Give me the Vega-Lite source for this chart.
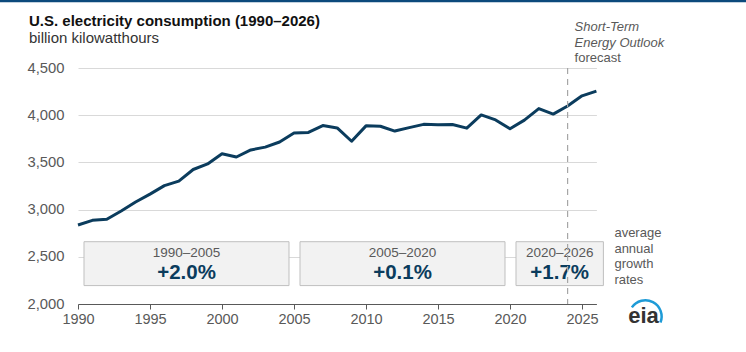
{
  "$schema": "https://vega.github.io/schema/vega-lite/v6.json",
  "width": 518.4,
  "height": 236,
  "autosize": {"type": "none"},
  "padding": {"left": 78, "top": 68, "right": 149.6, "bottom": 48},
  "background": "white",
  "config": {
    "font": "Liberation Sans",
    "view": {"stroke": null},
    "axis": {"title": null}
  },
  "title": {
    "text": "U.S. electricity consumption (1990–2026)",
    "subtitle": "billion kilowatthours",
    "anchor": "start",
    "frame": "group",
    "dx": -49,
    "offset": -46.5,
    "fontSize": 15,
    "fontWeight": "bold",
    "color": "#111111",
    "subtitleFontSize": 15,
    "subtitleColor": "#333333",
    "subtitlePadding": 2
  },
  "datasets": {
    "consumption": [
      {"year": 1990, "value": 2837}, {"year": 1991, "value": 2886}, {"year": 1992, "value": 2897},
      {"year": 1993, "value": 2985}, {"year": 1994, "value": 3080}, {"year": 1995, "value": 3164},
      {"year": 1996, "value": 3254}, {"year": 1997, "value": 3302}, {"year": 1998, "value": 3425},
      {"year": 1999, "value": 3484}, {"year": 2000, "value": 3592}, {"year": 2001, "value": 3557},
      {"year": 2002, "value": 3632}, {"year": 2003, "value": 3662}, {"year": 2004, "value": 3716},
      {"year": 2005, "value": 3811}, {"year": 2006, "value": 3817}, {"year": 2007, "value": 3890},
      {"year": 2008, "value": 3865}, {"year": 2009, "value": 3724}, {"year": 2010, "value": 3887},
      {"year": 2011, "value": 3883}, {"year": 2012, "value": 3832}, {"year": 2013, "value": 3868},
      {"year": 2014, "value": 3903}, {"year": 2015, "value": 3900}, {"year": 2016, "value": 3902},
      {"year": 2017, "value": 3863}, {"year": 2018, "value": 4003}, {"year": 2019, "value": 3950},
      {"year": 2020, "value": 3856}, {"year": 2021, "value": 3948}, {"year": 2022, "value": 4070},
      {"year": 2023, "value": 4012}, {"year": 2024, "value": 4097}, {"year": 2025, "value": 4205},
      {"year": 2026, "value": 4255}
    ],
    "periods": [
      {"start": 1990, "end": 2005, "label": "1990–2005", "rate": "+2.0%"},
      {"start": 2005, "end": 2020, "label": "2005–2020", "rate": "+0.1%"},
      {"start": 2020, "end": 2026, "label": "2020–2026", "rate": "+1.7%"}
    ],
    "one": [{}]
  },
  "layer": [
    {
      "data": {"name": "consumption"},
      "mark": {"type": "line", "color": "#0b3c5d", "strokeWidth": 3, "strokeJoin": "round"},
      "encoding": {
        "x": {
          "field": "year", "type": "quantitative",
          "scale": {"domain": [1990, 2026], "nice": false, "zero": false},
          "axis": {
            "values": [1990, 1995, 2000, 2005, 2010, 2015, 2020, 2025],
            "format": "d",
            "labelExpr": "format(datum.value, 'd')",
            "labelFlush": false,
            "grid": false,
            "domainColor": "#595959",
            "tickColor": "#595959",
            "tickSize": 5,
            "labelFontSize": 14.5,
            "labelColor": "#595959",
            "labelPadding": 3
          }
        },
        "y": {
          "field": "value", "type": "quantitative",
          "scale": {"domain": [2000, 4500], "nice": false, "zero": false},
          "axis": {
            "values": [2000, 2500, 3000, 3500, 4000, 4500],
            "format": ",",
            "labelExpr": "format(datum.value, ',')",
            "domain": false,
            "ticks": false,
            "gridColor": "#d9d9d9",
            "labelFontSize": 14.8,
            "labelColor": "#595959",
            "labelPadding": 14
          }
        }
      }
    },
    {
      "data": {"name": "periods"},
      "mark": {
        "type": "rect",
        "fill": "#f2f2f2",
        "stroke": "#bfbfbf",
        "strokeWidth": 1,
        "xOffset": 6,
        "x2Offset": {"expr": "datum.end == 2026 ? 7 : -5"}
      },
      "encoding": {
        "x": {"field": "start", "type": "quantitative"},
        "x2": {"field": "end"},
        "y": {"datum": 2660, "type": "quantitative"},
        "y2": {"datum": 2195}
      }
    },
    {
      "data": {"name": "periods"},
      "transform": [{"calculate": "(datum.start + datum.end) / 2", "as": "mid"}],
      "mark": {
        "type": "text",
        "fontSize": 13.5,
        "color": "#595959",
        "align": "center",
        "baseline": "alphabetic",
        "dx": {"expr": "datum.end == 2026 ? 6.5 : 0.5"}
      },
      "encoding": {
        "x": {"field": "mid", "type": "quantitative"},
        "y": {"datum": 2496, "type": "quantitative"},
        "text": {"field": "label"}
      }
    },
    {
      "data": {"name": "periods"},
      "transform": [{"calculate": "(datum.start + datum.end) / 2", "as": "mid"}],
      "mark": {
        "type": "text",
        "fontSize": 20.5,
        "fontWeight": "bold",
        "color": "#0b3c5d",
        "align": "center",
        "baseline": "alphabetic",
        "dx": {"expr": "datum.end == 2026 ? 6.5 : 0.5"}
      },
      "encoding": {
        "x": {"field": "mid", "type": "quantitative"},
        "y": {"datum": 2260, "type": "quantitative"},
        "text": {"field": "rate"}
      }
    },
    {
      "data": {"name": "one"},
      "mark": {"type": "rule", "color": "#a6a6a6", "strokeWidth": 1.2, "strokeDash": [6, 5]},
      "encoding": {
        "x": {"datum": 2024, "type": "quantitative"},
        "y": {"datum": 4500, "type": "quantitative"},
        "y2": {"datum": 2000}
      }
    },
    {
      "data": {"name": "one"},
      "mark": {
        "type": "text", "fontSize": 13, "fontStyle": "italic", "color": "#595959",
        "align": "left", "baseline": "alphabetic", "dx": 7, "lineHeight": 15.4
      },
      "encoding": {
        "x": {"datum": 2024, "type": "quantitative"},
        "y": {"datum": 4888, "type": "quantitative"},
        "text": {"value": ["Short-Term", "Energy Outlook"]}
      }
    },
    {
      "data": {"name": "one"},
      "mark": {
        "type": "text", "fontSize": 13, "color": "#595959",
        "align": "left", "baseline": "alphabetic", "dx": 7
      },
      "encoding": {
        "x": {"datum": 2024, "type": "quantitative"},
        "y": {"datum": 4563, "type": "quantitative"},
        "text": {"value": "forecast"}
      }
    },
    {
      "data": {"name": "one"},
      "mark": {
        "type": "text", "fontSize": 13, "color": "#595959",
        "align": "left", "baseline": "alphabetic", "dx": 18, "lineHeight": 15.5
      },
      "encoding": {
        "x": {"datum": 2026, "type": "quantitative"},
        "y": {"datum": 2708, "type": "quantitative"},
        "text": {"value": ["average", "annual", "growth", "rates"]}
      }
    },
    {
      "data": {"name": "one"},
      "mark": {
        "type": "text", "fontSize": 22, "fontWeight": "bold", "color": "#333333",
        "align": "center", "baseline": "alphabetic"
      },
      "encoding": {
        "x": {"datum": 2029.27, "type": "quantitative"},
        "y": {"datum": 1804, "type": "quantitative"},
        "text": {"value": "eia"}
      }
    },
    {
      "data": {"name": "one"},
      "mark": {
        "type": "arc", "color": "#1e9bd7",
        "theta": -0.98, "theta2": 1.95, "innerRadius": 15, "outerRadius": 17.5
      },
      "encoding": {
        "x": {"datum": 2029.4, "type": "quantitative"},
        "y": {"datum": 1868, "type": "quantitative"}
      }
    },
    {
      "data": {"name": "one"},
      "mark": {"type": "rect", "color": "#0c4a7c"},
      "encoding": {
        "x": {"datum": 1984.5, "type": "quantitative"},
        "x2": {"datum": 2036.5},
        "y": {"datum": 5230, "type": "quantitative"},
        "y2": {"datum": 5196}
      }
    }
  ]
}
